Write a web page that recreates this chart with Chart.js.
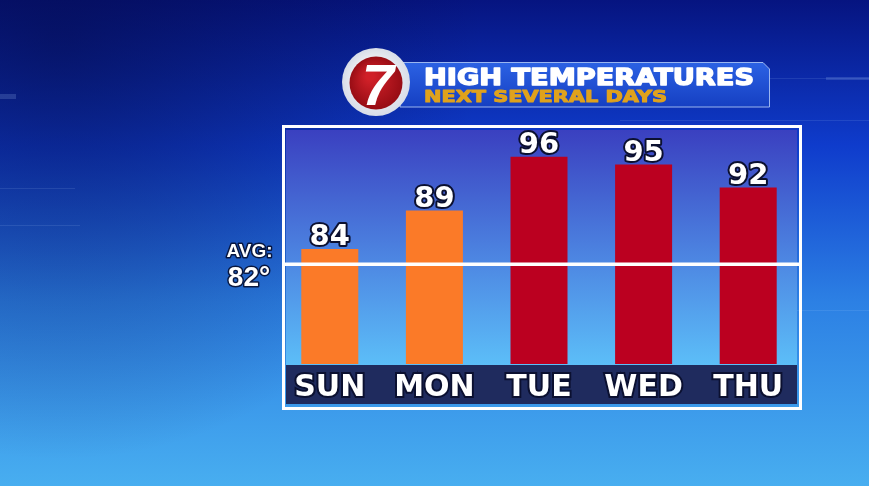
<!DOCTYPE html>
<html>
<head>
<meta charset="utf-8">
<script src="https://cdn.jsdelivr.net/npm/chart.js@4.4.1/dist/chart.umd.min.js"></script>
<style>
  html, body { margin: 0; padding: 0; background: #0a2a9a; overflow: hidden; }
  canvas { display: block; }
</style>
</head>
<body>
<canvas id="temps" width="869" height="486"></canvas>
<script>
const days = ['SUN', 'MON', 'TUE', 'WED', 'THU'];
const highs = [84, 89, 96, 95, 92];
const avgHigh = 82;
const title = 'HIGH TEMPERATURES';
const subtitle = 'NEXT SEVERAL DAYS';

// text squeezed/stretched to a given width (tv graphics fonts are wide)
function wideText(ctx, text, cx, baseline, width, font, fill, stroke, lw) {
  ctx.save();
  ctx.font = font;
  const w = ctx.measureText(text).width;
  ctx.translate(cx, baseline);
  ctx.scale(width / w, 1);
  ctx.textAlign = 'center';
  ctx.textBaseline = 'alphabetic';
  if (stroke) {
    ctx.lineJoin = 'round';
    ctx.lineWidth = lw;
    ctx.strokeStyle = stroke;
    ctx.strokeText(text, 0, 0);
  }
  ctx.fillStyle = fill;
  ctx.fillText(text, 0, 0);
  ctx.restore();
}

const backdrop = {
  id: 'backdrop',
  beforeDraw(chart) {
    const ctx = chart.ctx;
    const W = chart.width, H = chart.height;
    ctx.save();

    // studio background
    let g = ctx.createLinearGradient(0, 0, 0, H);
    g.addColorStop(0, '#061480');
    g.addColorStop(0.3, '#0f3ccc');
    g.addColorStop(0.62, '#2c80e4');
    g.addColorStop(1, '#48aef0');
    ctx.fillStyle = g;
    ctx.fillRect(0, 0, W, H);
    g = ctx.createRadialGradient(60, 40, 10, 60, 40, 420);
    g.addColorStop(0, 'rgba(4,10,70,0.55)');
    g.addColorStop(1, 'rgba(4,10,70,0)');
    ctx.fillStyle = g;
    ctx.fillRect(0, 0, W, H);

    // faint decoration lines
    ctx.strokeStyle = 'rgba(180,210,255,0.12)';
    ctx.lineWidth = 1;
    [[0, 188, 75], [0, 225, 80], [600, 78, 869], [620, 120, 869], [690, 310, 869]].forEach(([x0, y, x1]) => {
      ctx.beginPath(); ctx.moveTo(x0, y + 0.5); ctx.lineTo(x1, y + 0.5); ctx.stroke();
    });
    ctx.fillStyle = 'rgba(180,210,255,0.18)';
    ctx.fillRect(0, 94, 16, 5);
    ctx.fillRect(826, 77, 43, 3);

    // chart panel
    g = ctx.createLinearGradient(0, 130, 0, 365);
    g.addColorStop(0, '#3a40c0');
    g.addColorStop(0.55, '#4d86e2');
    g.addColorStop(1, '#5cbef8');
    ctx.fillStyle = g;
    ctx.fillRect(286, 130, 511, 235);
    ctx.fillStyle = '#1f2b5e';
    ctx.fillRect(286, 365, 511, 39);
    ctx.strokeStyle = '#ffffff';
    ctx.lineWidth = 3;
    ctx.strokeRect(283.5, 126.5, 517, 282);

    // title banner
    ctx.beginPath();
    ctx.moveTo(400, 62.5);
    ctx.lineTo(763, 62.5);
    ctx.lineTo(769.5, 69);
    ctx.lineTo(769.5, 107);
    ctx.lineTo(400, 107);
    ctx.closePath();
    g = ctx.createLinearGradient(0, 62, 0, 107);
    g.addColorStop(0, '#2c62e4');
    g.addColorStop(1, '#153fc2');
    ctx.fillStyle = g;
    ctx.fill();
    ctx.strokeStyle = 'rgba(170,195,245,0.9)';
    ctx.lineWidth = 1;
    ctx.stroke();

    wideText(ctx, title, 589, 85, 330, 'bold 23px "DejaVu Sans"', '#ffffff', '#ffffff', 1.4);
    wideText(ctx, subtitle, 545.5, 102, 243, 'bold 16px "DejaVu Sans"', '#e0a21c', '#e0a21c', 1);

    // station logo
    ctx.beginPath();
    ctx.arc(376, 82, 34, 0, Math.PI * 2);
    g = ctx.createRadialGradient(370, 74, 5, 376, 82, 34);
    g.addColorStop(0, '#ffffff');
    g.addColorStop(1, '#d8dde8');
    ctx.fillStyle = g;
    ctx.fill();
    ctx.beginPath();
    ctx.arc(376, 83, 26.5, 0, Math.PI * 2);
    g = ctx.createRadialGradient(370, 76, 4, 376, 83, 27);
    g.addColorStop(0, '#d02028');
    g.addColorStop(1, '#960c14');
    ctx.fillStyle = g;
    ctx.fill();
    ctx.font = 'italic bold 58px "Liberation Sans"';
    ctx.textAlign = 'center';
    ctx.textBaseline = 'alphabetic';
    ctx.fillStyle = '#ffffff';
    ctx.fillText('7', 378, 105);

    ctx.restore();
  }
};

const overlay = {
  id: 'overlay',
  afterDatasetsDraw(chart) {
    const ctx = chart.ctx;
    const y = chart.scales.y.getPixelForValue(avgHigh);
    ctx.save();

    // average line over the bars
    ctx.strokeStyle = '#ffffff';
    ctx.lineWidth = 3.5;
    ctx.beginPath();
    ctx.moveTo(283, y);
    ctx.lineTo(799, y);
    ctx.stroke();

    ctx.textAlign = 'center';
    ctx.textBaseline = 'alphabetic';
    ctx.lineJoin = 'round';
    ctx.strokeStyle = 'rgba(5,10,40,0.85)';
    ctx.fillStyle = '#ffffff';
    ctx.lineWidth = 3;
    ctx.font = 'bold 19px "Liberation Sans"';
    ctx.strokeText('AVG:', 249.5, y - 7);
    ctx.fillText('AVG:', 249.5, y - 7);
    ctx.font = 'bold 28px "Liberation Sans"';
    ctx.strokeText(avgHigh + '°', 249, y + 22);
    ctx.fillText(avgHigh + '°', 249, y + 22);

    // value labels on top of each bar
    ctx.font = 'bold 29px "DejaVu Sans"';
    ctx.lineWidth = 4;
    ctx.strokeStyle = '#0b1030';
    chart.getDatasetMeta(0).data.forEach((bar, i) => {
      ctx.strokeText(String(highs[i]), bar.x, bar.y - 4);
      ctx.fillText(String(highs[i]), bar.x, bar.y - 4);
    });
    ctx.restore();
  }
};

new Chart(document.getElementById('temps'), {
  type: 'bar',
  data: {
    labels: days,
    datasets: [{
      data: highs,
      backgroundColor: (c) => c.raw >= 90 ? '#bb0020' : '#fb7a28',
      borderWidth: 0,
      barPercentage: 0.545,
      categoryPercentage: 1.0
    }]
  },
  options: {
    responsive: false,
    animation: false,
    layout: { padding: { left: 277.5, right: 68.5, top: 130, bottom: 74 } },
    plugins: {
      legend: { display: false },
      tooltip: { enabled: false }
    },
    scales: {
      x: {
        grid: { display: false, drawTicks: false },
        border: { display: false },
        ticks: {
          color: '#ffffff',
          font: { family: 'DejaVu Sans', weight: 'bold', size: 30 },
          padding: 6,
          maxRotation: 0,
          textStrokeColor: '#0b1030',
          textStrokeWidth: 4
        }
      },
      y: { display: false, min: 69, max: 99.5 }
    }
  },
  plugins: [backdrop, overlay]
});
</script>
</body>
</html>
